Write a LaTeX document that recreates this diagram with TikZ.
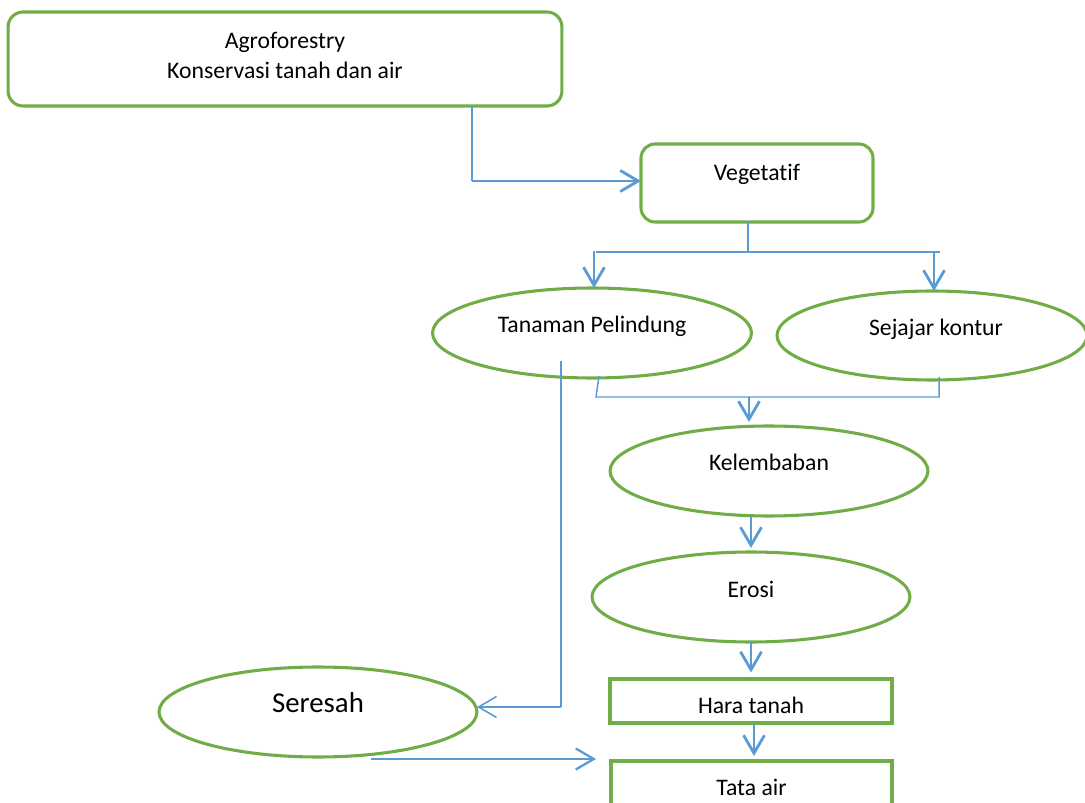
\documentclass[tikz,border=0pt]{standalone}
\usepackage{fontspec}
\setmainfont[Ligatures={NoCommon}]{Carlito}
\usetikzlibrary{arrows.meta,shapes.geometric}
\definecolor{leaf}{HTML}{70AD47}
\definecolor{flow}{HTML}{5B9BD5}
\begin{document}
\begin{tikzpicture}[x=0.02cm,y=-0.02cm,
  every node/.style={font=\fontsize{13.5}{17}\selectfont, inner sep=0pt, outer sep=0pt},
  shapebase/.style={draw=leaf, line width=1.75pt, fill=white, text height=0pt, text depth=0pt},
  roundbox/.style={shapebase, rectangle, rounded corners=0.3cm},
  oval/.style={shapebase, ellipse},
  plainbox/.style={shapebase, rectangle},
  wire/.style={draw=flow, line width=0.85pt},
  flowarrow/.style={draw=flow, line width=1.6pt, -{Straight Barb[length=0.36cm,width=0.42cm]}},
  thinarrow/.style={draw=flow, line width=0.9pt, -{Straight Barb[length=0.36cm,width=0.42cm]}},
]
\useasboundingbox (0,0) rectangle (1085,803);
\clip (0,0) rectangle (1085,803);

% boxes and ovals
\node[roundbox, minimum width=11.08cm, minimum height=1.88cm] (agro) at (285,59) {};
\node[anchor=base] (agroA) at (285,49) {Agroforestry};
\node[anchor=base] (agroB) at (285,79) {Konservasi tanah dan air};

\node[roundbox, rounded corners=0.28cm, minimum width=4.64cm, minimum height=1.56cm,
      text depth=0.08cm] (veg) at (757,183) {Vegetatif};

\node[oval, minimum width=6.38cm, minimum height=1.8cm] (tp) at (592,333) {Tanaman Pelindung};
\node[oval, minimum width=6.2cm, minimum height=1.78cm] (sk) at (932,335.5) {\hspace{0.16cm}Sejajar kontur};
\node[oval, minimum width=6.36cm, minimum height=1.8cm] (kel) at (769,471) {Kelembaban};
\node[oval, minimum width=6.36cm, minimum height=1.8cm] (ero) at (751,597) {Erosi};
\node[oval, minimum width=6.36cm, minimum height=1.8cm,
      font=\fontsize{16.4}{20}\selectfont] (ser) at (318,712) {Seresah};

\node[plainbox, minimum width=5.64cm, minimum height=0.88cm, text height=0.48cm] (hara) at (751,701) {Hara tanah};
\node[plainbox, minimum width=5.62cm, minimum height=0.92cm, text height=0.44cm] (tata) at (751.5,784) {Tata air};

% connectors
\coordinate (c1) at (472,181);
\draw[wire] (agro.south -| c1) -- (c1);
\draw[flowarrow] (c1) -- (veg.west |- c1);

\coordinate (vfork) at (748,252);
\coordinate (fl) at (596,252);
\coordinate (fr) at (940,252);
\coordinate (al) at (594,251);
\coordinate (ar) at (934,251);
\draw[wire] (veg.south -| vfork) -- (vfork);
\draw[wire] (fl) -- (fr);
\draw[flowarrow] (al) -- (tp.north -| al);
\draw[flowarrow] (ar) -- (sk.north -| ar);

\coordinate (ta) at (599,376);
\coordinate (ml) at (596,397);
\coordinate (mr) at (939,397);
\coordinate (tb) at (939,377);
\coordinate (mm) at (749,397);
\draw[wire] (ta) -- (ml) -- (mr) -- (tb);
\draw[flowarrow, shorten >=0.08cm] (mm) -- (kel.north -| mm);

\draw[flowarrow, shorten >=0.08cm] (kel.south -| ero.north) -- (ero.north);
\draw[flowarrow, shorten >=0.13cm] (ero.south) -- (hara.north);
\coordinate (ht) at (754,723);
\draw[flowarrow, shorten >=0.1cm] (ht) -- (tata.north -| ht);

\coordinate (s1) at (561,361);
\coordinate (s2) at (561,707);
\draw[wire] (s1) -- (s2);
\draw[thinarrow] (s2) -- (ser.east |- s2);

\coordinate (sa) at (371,759);
\draw[flowarrow, line width=1.3pt, shorten >=0.3cm] (sa) -- (tata.west |- sa);
\end{tikzpicture}
\end{document}
